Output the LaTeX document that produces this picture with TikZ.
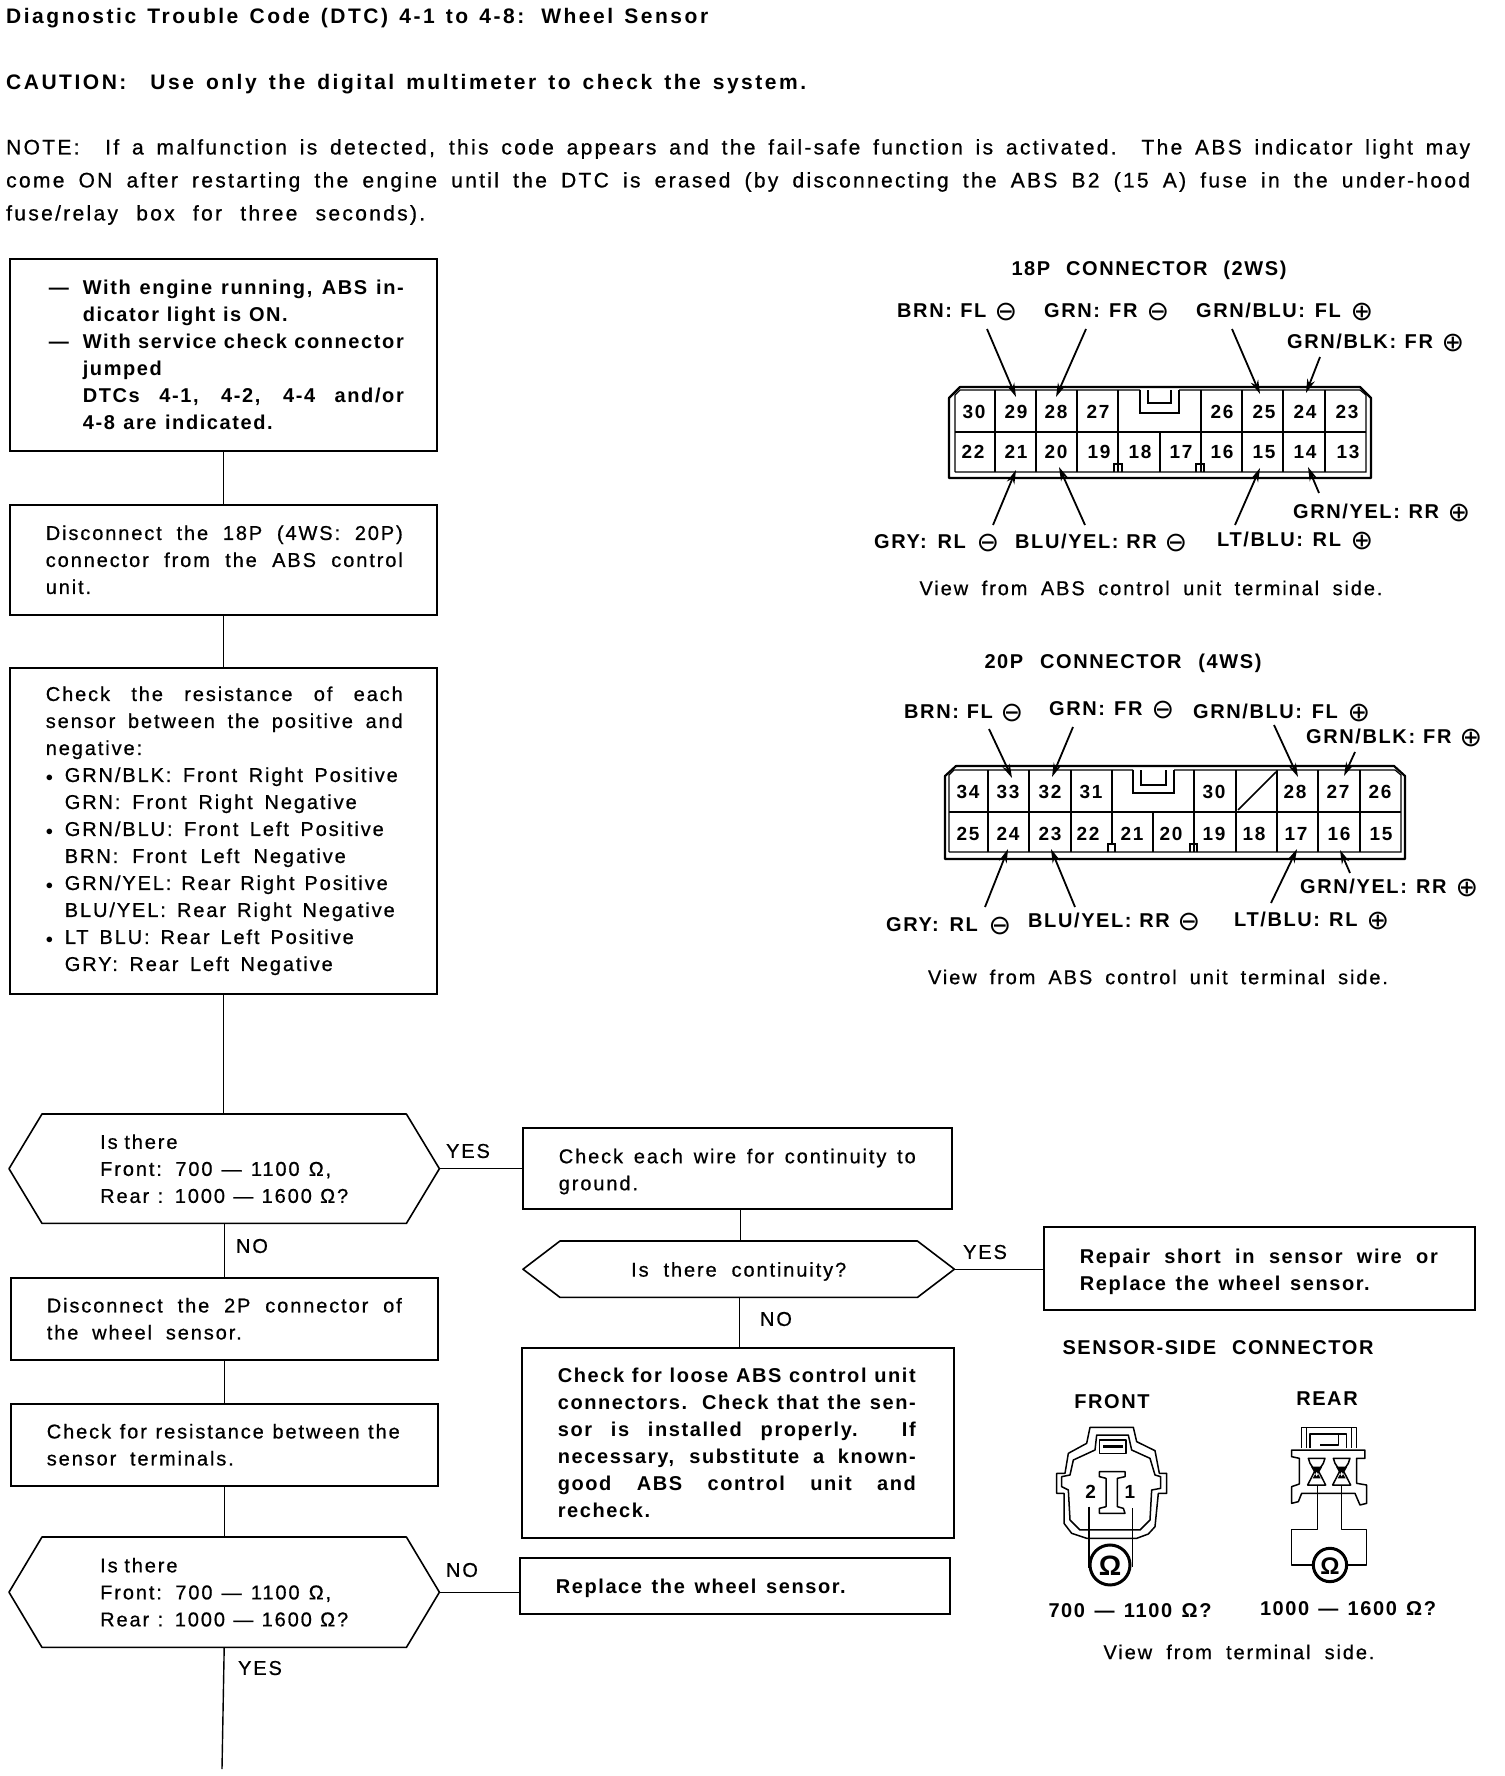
\documentclass[tikz,border=0pt]{standalone}
\usepackage{fontspec}
\setmainfont[LetterSpace=9.5,FakeBold=0.7]{Liberation Sans}
\newfontfamily\symf{DejaVu Sans}
\newfontfamily\bfb[LetterSpace=8]{Liberation Sans Bold}
\newfontfamily\hdb[LetterSpace=12]{Liberation Sans Bold}
\newfontfamily\hdr[LetterSpace=11,FakeBold=0.7]{Liberation Sans}
\usetikzlibrary{arrows.meta,calc}
\newcommand{\body}{\fontsize{20}{27}\selectfont}
\newcommand{\head}{\fontsize{21}{27}\selectfont}
\newcommand{\J}[2]{\makebox[#1pt][s]{\spaceskip=0pt\xspaceskip=0pt #2}}
\newcommand{\om}{\raisebox{-3pt}{\fontsize{27}{27}\selectfont\symf\char"2296}}
\newcommand{\op}{\raisebox{-3pt}{\fontsize{27}{27}\selectfont\symf\char"2295}}
\newcommand{\dsh}[1]{\makebox[34pt][l]{—}#1}
\newcommand{\ind}[1]{\hspace*{19pt}#1}
\newcommand{\blt}[1]{\makebox[19pt][l]{\fontsize{14}{14}\selectfont$\bullet$}#1}
\tikzset{
 hreg/.style={anchor=west,inner sep=0pt,font=\head\hdr},
 hbld/.style={anchor=west,inner sep=0pt,font=\head\hdb},
 ctxt/.style={inner sep=0pt,font=\body},
 bt/.style={anchor=west,inner sep=0pt,font=\body\bfb},
 cb/.style={inner sep=0pt,font=\body\bfb},
 flow/.style={draw,line width=1.6pt,anchor=north west,align=left,font=\body,inner ysep=0pt},
 flowb/.style={flow,font=\body\bfb},
 hexn/.style={anchor=north west,align=left,font=\body,inner ysep=0pt,inner xsep=60pt},
 conn/.style={line width=1.4pt},
 pin/.style={inner sep=0pt,font=\fontsize{19}{19}\selectfont\bfb},
 wire/.style={line width=1.8pt,-{Stealth[length=14pt,width=8pt]}},
 shell/.style={line width=2.2pt,line join=round},
 cell/.style={line width=1.2pt},
 part/.style={line width=1.5pt,line join=round},
 ohm/.style={line width=3pt,fill=white},
}
\newcommand{\hexpath}[2]{\draw[line width=1.6pt,line join=round] (#1.west)--([xshift=#2pt]#1.north west)--([xshift=-#2pt]#1.north east)--(#1.east)--([xshift=-#2pt]#1.south east)--([xshift=#2pt]#1.south west)--cycle;}
\newcommand{\wirearrow}[5]{\coordinate (#1s) at (#2,#3);\coordinate (#1e) at (#4,#5);\draw[wire] (#1s)--(#1e);}
\begin{document}
\begin{tikzpicture}[x=1pt,y=-1pt]
\useasboundingbox (0,0) rectangle (1504,1776);
\fill[white] (0,0) rectangle (1504,1776);
% heading
\node[hbld] (t1) at (6,18) {\J{702}{Diagnostic Trouble Code (DTC) 4-1 to 4-8: Wheel Sensor}};
\node[hbld] (t2) at (6,84) {\J{800}{CAUTION:\ \ Use only the digital multimeter to check the system.}};
\node[hreg] (t3) at (6,149) {\J{1464}{NOTE:\ \ If a malfunction is detected, this code appears and the fail-safe function is activated. The ABS indicator light may}};
\node[hreg] (t4) at (6,182) {\J{1464}{come ON after restarting the engine until the DTC is erased (by disconnecting the ABS B2 (15 A) fuse in the under-hood}};
\node[hreg] (t5) at (6,215) {\J{419}{fuse/relay box for three seconds).}};
% left column
\node[flowb,inner xsep=39pt,text width=349pt,minimum height=192pt] (b1) at (9,258) {\dsh{\J{321}{With engine running, ABS in-}}\\\hspace*{34pt}\J{205}{dicator light is ON.}\\\dsh{\J{321}{With service check connector}}\\\hspace*{34pt}jumped\\\hspace*{34pt}\J{321}{DTCs 4-1, 4-2, 4-4 and/or}\\\hspace*{34pt}\J{190}{4-8 are indicated.}};
\node[flow,inner xsep=36pt,text width=355pt,minimum height=110pt] (b2) at (9,504) {\J{357}{Disconnect the 18P (4WS: 20P)}\\\J{357}{connector from the ABS control}\\unit.};
\node[flow,inner xsep=36pt,text width=355pt,minimum height=326pt] (b3) at (9,667) {\J{357}{Check the resistance of each}\\\J{357}{sensor between the positive and}\\negative:\\\blt{\J{333}{GRN/BLK: Front Right Positive}}\\\ind{\J{292}{GRN: Front Right Negative}}\\\blt{\J{319}{GRN/BLU: Front Left Positive}}\\\ind{\J{281}{BRN: Front Left Negative}}\\\blt{\J{323}{GRN/YEL: Rear Right Positive}}\\\ind{\J{330}{BLU/YEL: Rear Right Negative}}\\\blt{\J{289}{LT BLU: Rear Left Positive}}\\\ind{\J{268}{GRY: Rear Left Negative}}};
\node[hexn,text width=310pt,minimum height=109pt] (h1) at (9,1114) {\hspace*{31pt}Is there\\\hspace*{31pt}\J{231}{Front: 700 — 1100 Ω,}\\\hspace*{31pt}\J{248}{Rear : 1000 — 1600 Ω?}};
\hexpath{h1}{33}
\node[flow,inner xsep=36pt,text width=355pt,minimum height=82pt] (b4) at (10,1277) {\J{355}{Disconnect the 2P connector of}\\\J{195}{the wheel sensor.}};
\node[flow,inner xsep=36pt,text width=355pt,minimum height=82pt] (b5) at (10,1403) {\J{353}{Check for resistance between the}\\\J{187}{sensor terminals.}};
\node[hexn,text width=310pt,minimum height=110pt] (h2) at (9,1537) {\hspace*{31pt}Is there\\\hspace*{31pt}\J{231}{Front: 700 — 1100 Ω,}\\\hspace*{31pt}\J{248}{Rear : 1000 — 1600 Ω?}};
\hexpath{h2}{33}
\coordinate (endp) at (222,1769);
\draw[conn] (b1)--(b2);
\draw[conn] (b2)--(b3);
\draw[conn] (b3.south)--(b3.south |- h1.north);
\draw[conn] (h1.south)--(h1.south |- b4.north);
\draw[conn] (b4)--(b5);
\draw[conn] (b5.south)--(b5.south |- h2.north);
\draw[conn] (h2.south)--(endp);
% middle column
\node[flow,inner xsep=36pt,text width=357pt,minimum height=81pt] (c1) at (522,1127) {\rule{0pt}{21pt}\J{357}{Check each wire for continuity to}\\ground.};
\node[hexn,align=center,text width=311pt,minimum height=56pt] (h3) at (523,1241) {\rule{0pt}{19pt}\J{215}{Is there continuity?}};
\hexpath{h3}{37}
\node[flowb,inner xsep=36pt,text width=360pt,minimum height=190pt] (c2) at (521,1347) {\J{358}{Check for loose ABS control unit}\\\J{358}{connectors. Check that the sen-}\\\J{358}{sor is installed properly. If}\\\J{358}{necessary, substitute a known-}\\\J{358}{good ABS control unit and}\\recheck.};
\node[flowb,inner xsep=36pt,text width=358pt,minimum height=56pt] (c3) at (519,1557) {\rule{0pt}{19pt}\J{290}{Replace the wheel sensor.}};
\node[flowb,inner xsep=36pt,text width=359pt,minimum height=83pt] (d1) at (1043,1226) {\rule{0pt}{21pt}\J{358}{Repair short in sensor wire or}\\\J{290}{Replace the wheel sensor.}};
\draw[conn] (h1.east)--(h1.east -| c1.west);
\draw[conn] ([xshift=3pt]c1.south)--([xshift=3pt]c1.south |- h3.north);
\draw[conn] ([xshift=1pt]h3.south)--([xshift=1pt]h3.south |- c2.north);
\draw[conn] (h3.east)--(h3.east -| d1.west);
\draw[conn] (h2.east)--(h2.east -| c3.west);
\node[ctxt] (y1) at (468,1151) {YES};
\node[ctxt] (n1) at (252,1246) {NO};
\node[ctxt] (y2) at (985,1252) {YES};
\node[ctxt] (n2) at (776,1319) {NO};
\node[ctxt] (n3) at (462,1570) {NO};
\node[ctxt] (y3) at (260,1668) {YES};
% 18P connector
\node[cb] (p18) at (1149,270) {\J{275}{18P CONNECTOR (2WS)}};
\node[bt] (l1) at (897,312) {\J{120}{BRN: FL \om}};
\node[bt] (l2) at (1044,312) {\J{125}{GRN: FR \om}};
\node[bt] (l3) at (1196,312) {\J{177}{GRN/BLU: FL \op}};
\node[bt] (l4) at (1287,343) {\J{177}{GRN/BLK: FR \op}};
\node[bt] (l5) at (1293,513) {\J{177}{GRN/YEL: RR \op}};
\node[bt] (l6) at (874,543) {\J{125}{GRY: RL \om}};
\node[bt] (l7) at (1015,543) {\J{172}{BLU/YEL: RR \om}};
\node[bt] (l8) at (1217,541) {\J{156}{LT/BLU: RL \op}};
\node[ctxt] (v1) at (1151,588) {\J{463}{View from ABS control unit terminal side.}};
\draw[shell] (949,478)--(949,398)--(960,387)--(1360,387)--(1371,398)--(1371,478)--cycle;
\draw[cell] (955,472)--(955,395)--(960,390)--(1140,390) (1179,390)--(1360,390)--(1366,395)--(1366,472)--(955,472);
\draw[line width=1.8pt] (955,432)--(1366,432);
\foreach \x in {995,1036,1077,1118,1201,1242,1283,1325} \draw[cell] (\x,390)--(\x,432);
\foreach \x in {995,1036,1077,1118,1160,1201,1242,1283,1325} \draw[cell] (\x,432)--(\x,472);
\draw[line width=1.8pt] (1140,390)--(1140,413)--(1179,413)--(1179,390) (1148,390)--(1148,403)--(1171,403)--(1171,390);
\foreach \x in {1114,1196} \draw[cell] (\x,472)--(\x,464)--(\x+8,464)--(\x+8,472);
\foreach \n/\x in {30/974,29/1016,28/1056,27/1098,26/1222,25/1264,24/1305,23/1347} \node[pin] (a\n) at (\x,412) {\n};
\foreach \n/\x in {22/973,21/1016,20/1056,19/1099,18/1140,17/1181,16/1222,15/1264,14/1305,13/1348} \node[pin] (a\n) at (\x,452) {\n};
\wirearrow{a}{987}{329}{1016}{397}
\wirearrow{b}{1086}{329}{1056}{397}
\wirearrow{c}{1232}{329}{1260}{394}
\wirearrow{d}{1320}{357}{1306}{393}
\wirearrow{e}{1319}{493}{1308}{467}
\wirearrow{f}{993}{525}{1016}{470}
\wirearrow{g}{1085}{525}{1059}{467}
\wirearrow{h}{1235}{525}{1260}{468}
% 20P connector
\node[cb] (p20) at (1123,663) {\J{277}{20P CONNECTOR (4WS)}};
\node[bt] (m1) at (904,713) {\J{119}{BRN: FL \om}};
\node[bt] (m2) at (1049,710) {\J{125}{GRN: FR \om}};
\node[bt] (m3) at (1193,713) {\J{177}{GRN/BLU: FL \op}};
\node[bt] (m4) at (1306,738) {\J{176}{GRN/BLK: FR \op}};
\node[bt] (m5) at (1300,888) {\J{178}{GRN/YEL: RR \op}};
\node[bt] (m6) at (886,926) {\J{125}{GRY: RL \om}};
\node[bt] (m7) at (1028,922) {\J{172}{BLU/YEL: RR \om}};
\node[bt] (m8) at (1234,921) {\J{155}{LT/BLU: RL \op}};
\node[ctxt] (v2) at (1158,977) {\J{460}{View from ABS control unit terminal side.}};
\draw[shell] (945,859)--(945,776)--(956,766)--(1394,766)--(1405,776)--(1405,859)--cycle;
\draw[cell] (949,852)--(949,775)--(954,770)--(1133,770) (1174,770)--(1395,770)--(1401,775)--(1401,852)--(949,852);
\draw[line width=2.2pt] (949,812)--(1401,812);
\foreach \x in {988,1029,1071,1112,1194,1236,1277,1318,1360} \draw[cell] (\x,770)--(\x,812);
\foreach \x in {988,1029,1071,1153,1194,1236,1277,1318,1360} \draw[cell] (\x,812)--(\x,852);
\draw[cell] (1112,812)--(1112,844);
\draw[line width=1.8pt] (1133,770)--(1133,793)--(1174,793)--(1174,770) (1141,770)--(1141,785)--(1166,785)--(1166,770);
\draw[line width=1.6pt] (1238,810)--(1276,772);
\foreach \x in {1108,1190} \draw[cell] (\x,852)--(\x,844)--(\x+7,844)--(\x+7,852);
\foreach \n/\x in {34/968,33/1008,32/1050,31/1091,30/1214,28/1295,27/1338,26/1380} \node[pin] (r\n) at (\x,792) {\n};
\foreach \n/\x in {25/968,24/1008,23/1050,22/1088,21/1132,20/1171,19/1214,18/1254,17/1296,16/1339,15/1381} \node[pin] (q\n) at (\x,834) {\n};
\wirearrow{i}{989}{729}{1012}{778}
\wirearrow{j}{1073}{727}{1052}{777}
\wirearrow{k}{1274}{725}{1298}{777}
\wirearrow{l}{1355}{752}{1344}{776}
\wirearrow{m}{1350}{873}{1340}{850}
\wirearrow{n}{985}{907}{1008}{849}
\wirearrow{o}{1075}{907}{1051}{849}
\wirearrow{p}{1271}{903}{1297}{849}
% sensor
\node[cb] (s0) at (1218,1348) {\J{311}{SENSOR-SIDE CONNECTOR}};
\node[cb] (s1) at (1112,1402) {FRONT};
\node[cb] (s2) at (1327,1399) {REAR};
\node[cb] (s3) at (1130,1611) {\J{163}{700 — 1100 Ω?}};
\node[cb] (s4) at (1348,1609) {\J{176}{1000 — 1600 Ω?}};
\node[ctxt] (s5) at (1239,1652) {\J{271}{View from terminal side.}};
\begin{scope}[shift={(1040,1330)},x=0.3333pt,y=-0.3333pt]
 \draw[part] (150,292)--(280,292)--(290,335)--(345,362)--(358,430)--(380,430)--(380,490)--(355,490)--(345,590)--(325,612)--(290,625)--(140,625)--(95,610)--(72,580)--(72,490)--(50,490)--(50,430)--(75,430)--(85,370)--(140,340)--cycle;
 \draw[part] (170,315)--(265,315)--(275,360)--(330,385)--(345,435)--(362,440)--(362,475)--(335,480)--(330,570)--(300,600)--(120,600)--(90,570)--(85,480)--(65,470)--(65,440)--(90,435)--(100,390)--(165,360)--cycle;
 \draw[part] (178,330) rectangle (258,370);
 \draw[line width=2.5pt] (190,350)--(250,350);
 \draw[part] (178,425)--(255,425)--(255,440)--(232,445)--(232,530)--(250,535)--(255,550)--(178,550)--(178,535)--(198,530)--(198,445)--(178,440)--cycle;
 \node[pin] (f2) at (152,487) {2};
 \node[pin] (f1) at (270,487) {1};
 \draw[part] (147,530)--(147,715) (278,535)--(278,710);
 \draw[ohm] (210,705) circle (60);
 \node[cb,font=\fontsize{28}{28}\selectfont\bfb] (fo) at (210,708) {Ω};
 % rear
 \draw[part] (785,355)--(785,292)--(950,292)--(950,355) (800,292)--(800,355) (810,355)--(810,312)--(895,312)--(895,345)--(840,345) (895,312)--(920,312)--(920,355) (935,292)--(935,355);
 \draw[part] (755,360)--(975,360)--(975,385)--(950,385)--(950,460)--(980,465)--(980,520)--(960,525)--(945,490)--(785,490)--(775,515)--(755,520)--(755,470)--(778,462)--(778,385)--(755,380)--cycle;
 \foreach \x in {830,905} {
  \draw[part,fill=white] (\x-25,385)--(\x+25,385)--(\x+20,400)--(\x+5,422)--(\x+27,465)--(\x-27,465)--(\x-5,422)--(\x-20,400)--cycle;
  \fill (\x-17,410)--(\x+17,410)--(\x,440)--cycle (\x-12,445)--(\x+12,445)--(\x,425)--cycle;
 }
 \draw[part] (832,465)--(832,598)--(755,598)--(755,705)--(825,705) (905,465)--(905,598)--(980,598)--(980,705)--(920,705);
 \draw[ohm] (870,705) circle (50);
 \node[cb,font=\fontsize{24}{24}\selectfont\bfb] (ro) at (870,708) {Ω};
\end{scope}
\end{tikzpicture}
\end{document}
